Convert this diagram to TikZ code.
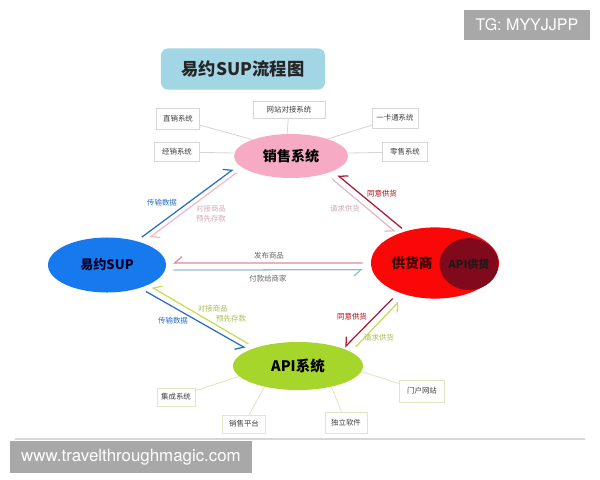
\documentclass[tikz,border=0pt]{standalone}
\usepackage{fontspec}
\setmainfont{Noto Sans CJK SC}
\newfontfamily\wmfont{TeX Gyre Heros}
\usetikzlibrary{shapes.geometric,arrows.meta}

\definecolor{titleblue}{RGB}{162,214,228}
\definecolor{salespink}{RGB}{246,170,196}
\definecolor{supblue}{RGB}{22,122,238}
\definecolor{suppred}{RGB}{250,8,8}
\definecolor{apired}{RGB}{128,10,28}
\definecolor{apigreen}{RGB}{166,214,44}
\definecolor{flowblue}{RGB}{40,112,196}
\definecolor{flowpink}{RGB}{240,184,204}
\definecolor{flowred}{RGB}{168,28,56}
\definecolor{flowrose}{RGB}{226,186,196}
\definecolor{flowgreen}{RGB}{200,220,90}
\definecolor{publine}{RGB}{226,136,152}
\definecolor{payline}{RGB}{150,186,210}
\definecolor{linkgray}{RGB}{214,214,214}
\definecolor{linkgreen}{RGB}{222,230,196}
\definecolor{wmgray}{RGB}{168,168,168}

\begin{document}
\begin{tikzpicture}[x=0.025cm,y=-0.025cm,
    oval/.style={ellipse,inner sep=0pt},
    sysbox/.style={draw=linkgray,fill=white,font=\fontsize{5.3}{6}\selectfont,text=black!75,minimum width=1.1cm,minimum height=0.5cm,inner sep=1pt},
    link/.style={linkgray,line width=0.6pt},
    flow/.style={line width=0.9pt},
    barbL/.style={-{Straight Barb[harpoon,length=5pt,width=9pt]}},
    barbR/.style={-{Straight Barb[harpoon,swap,length=5pt,width=9pt]}},
    tag/.style={font=\fontsize{5.3}{7.1}\selectfont,align=left}]
        \useasboundingbox (0,0) rectangle (600,480);

        \node[fill=titleblue,rounded corners=5pt,minimum width=4.1cm,minimum height=1.03cm,font=\fontsize{12.3}{14}\selectfont\bfseries,text=black!85] (title) at (243,69) {易约SUP流程图};

        \node[oval,fill=salespink,minimum width=2.85cm,minimum height=1.1cm,font=\fontsize{10}{12}\selectfont\bfseries] (sales) at (291,156) {销售系统};
        \node[oval,fill=supblue,minimum width=2.95cm,minimum height=1.375cm,font=\fontsize{9.3}{11}\selectfont\bfseries,text=black!85!blue] (sup) at (107,265) {易约SUP};
        \node[oval,fill=suppred,minimum width=3.2cm,minimum height=1.78cm] (supplier) at (435,263) {};
        \node[font=\fontsize{9.7}{11}\selectfont\bfseries,text=black!80!red] (suppliertext) at (412,263) {供货商};
        \node[oval,fill=apired,minimum width=1.475cm,minimum height=1.3cm,font=\fontsize{7.8}{9}\selectfont\bfseries,text=black!90] (apisupply) at (469,264) {API供货};
        \node[oval,fill=apigreen,minimum width=3.25cm,minimum height=1.2cm,font=\fontsize{10.3}{12}\selectfont\bfseries] (api) at (298,366) {API系统};

        \node[sysbox,minimum width=1.075cm,minimum height=0.525cm] (zhixiao) at (178,119) {直销系统};
        \node[sysbox,minimum width=1.8cm,minimum height=0.43cm] (wangzhan) at (289,110) {网站对接系统};
        \node[sysbox,minimum width=1.15cm] (yikatong) at (395,118) {一卡通系统};
        \node[sysbox,minimum width=1.125cm,minimum height=0.475cm] (jingxiao) at (177,152) {经销系统};
        \node[sysbox,minimum width=1.125cm,minimum height=0.475cm] (lingshou) at (405,152) {零售系统};
        \node[sysbox,draw=linkgreen,minimum width=0.95cm,minimum height=0.45cm] (jicheng) at (176,397) {集成系统};
        \node[sysbox,draw=linkgreen,minimum width=1.075cm,minimum height=0.45cm] (xiaoshou) at (244,424) {销售平台};
        \node[sysbox,draw=linkgreen,minimum width=1.05cm,minimum height=0.525cm] (duli) at (346,423) {独立软件};
        \node[sysbox,draw=linkgreen,minimum width=1.125cm,minimum height=0.55cm] (menhu) at (422,391) {门户网站};

        \path[link] (zhixiao) edge (sales.157)
            (wangzhan) edge (sales.100)
            (yikatong) edge (sales.25)
            (jingxiao) edge (sales.177)
            (lingshou) edge (sales.3);
        \path[link,linkgreen] (jicheng) edge (api.190)
            (xiaoshou) edge (api.212)
            (duli) edge (api.-32)
            (menhu) edge (api.-5);

        \draw[flow,barbL,flowblue,shorten <=4.5pt,shorten >=4.9pt] (sup.39) -- (sales.190);
        \draw[flow,barbL,flowpink,shorten <=5.5pt,shorten >=6.2pt] (sales.194) -- (sup.32);
        \draw[flow,barbR,flowred,shorten <=3.1pt,shorten >=4.5pt] (supplier.133) -- (sales.340);
        \draw[flow,barbR,flowrose,shorten <=5.7pt,shorten >=2.1pt] (sales.333) -- (supplier.142);
        \draw[flow,barbR,publine,shorten <=5.7pt,shorten >=5pt] (supplier.180) -- (sup.2);
        \draw[flow,barbR,payline,shorten <=5.7pt,shorten >=6.5pt] (sup.-5) -- (supplier.186);
        \draw[flow,barbR,flowgreen,shorten <=5.4pt,shorten >=3.1pt] (api.157) -- (sup.-26);
        \draw[flow,barbR,flowblue,shorten <=4.8pt,shorten >=2.9pt] (sup.-35) -- (api.162);
        \draw[flow,barbR,flowred,shorten <=6pt,shorten >=1.4pt] (supplier.219) -- (api.21);
        \draw[flow,barbR,flowgreen,shorten <=4.9pt,shorten >=6.8pt] (api.15) -- (supplier.227);

        \node[tag,text=flowblue] (sendA) at (162,203) {传输数据};
        \node[tag,text=flowpink!90!black] (stockA) at (211,214) {对接商品\\预先存款};
        \node[tag,text=red!70!black] (agreeA) at (382,194) {同意供货};
        \node[tag,text=flowrose!90!black] (askA) at (345,209) {请求供货};
        \node[tag,text=black!60] (publish) at (269,256) {发布商品};
        \node[tag,text=black!60] (pay) at (268,279) {付款给商家};
        \node[tag,text=flowgreen!85!black] (stockB) at (222,314) {对接商品\\\hspace*{13pt}预先存款};
        \node[tag,text=flowblue] (sendB) at (173,321) {传输数据};
        \node[tag,text=red!70!black] (agreeB) at (352,317) {同意供货};
        \node[tag,text=flowgreen!85!black] (askB) at (379,338) {请求供货};

        \draw[linkgray,line width=1pt] (15,439) -- (585,439);
        \node[fill=wmgray,text=white,font=\wmfont\fontsize{11.4}{13}\selectfont,minimum width=3.125cm,minimum height=0.725cm,inner sep=0pt] (tgmark) at (527,25) {TG: MYYJJPP};
        \node[fill=wmgray,text=white,font=\wmfont\fontsize{12}{14}\selectfont,minimum width=6.05cm,minimum height=0.8cm,inner sep=0pt] (sitemark) at (131,457) {www.travelthroughmagic.com};
    \end{tikzpicture}
\end{document}
